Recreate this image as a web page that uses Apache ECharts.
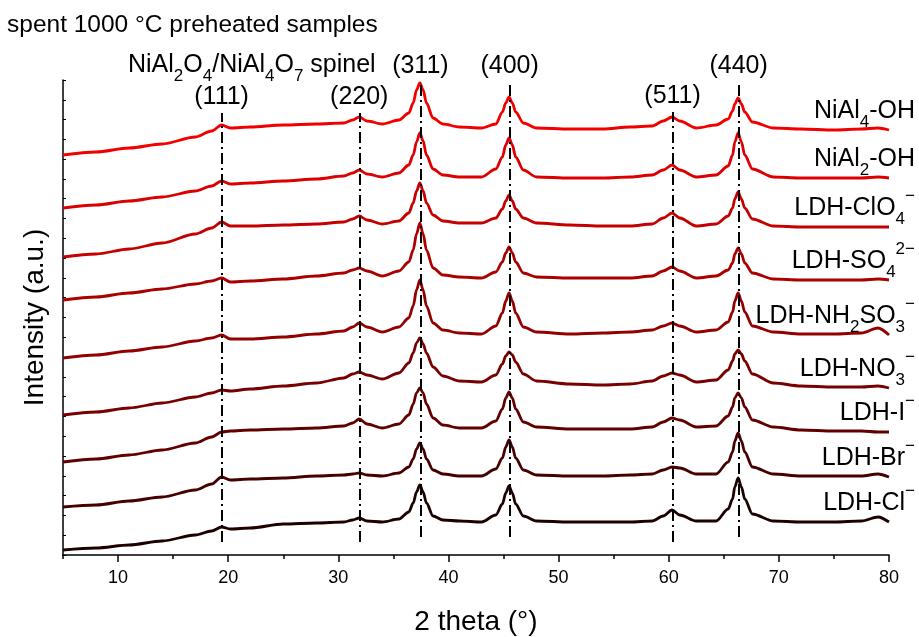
<!DOCTYPE html>
<html>
<head>
<meta charset="utf-8">
<title>spent 1000 °C preheated samples</title>
<script src="https://cdn.jsdelivr.net/npm/echarts@6/dist/echarts.min.js"></script>
<style>
    html, body { margin: 0; padding: 0; background: #fff; }
    #xrdContainer { width: 919px; height: 637px; }
</style>
</head>
<body>
<div id="xrdContainer"></div>
<script>
// 2 theta sampling points (deg)
const twoTheta = [5, 8, 11, 14, 17, 18.5, 19.4, 20.2, 22, 25, 28, 30.5, 31.3, 31.9, 32.6, 34, 35.5, 36.4, 36.8, 37.1, 37.4, 37.7, 38.0, 38.6, 39.5, 41, 43, 44.3, 44.9, 45.2, 45.5, 45.8, 46.1, 46.8, 48, 51, 54, 56.5, 58.5, 59.5, 60.3, 61, 62.5, 64.3, 65.4, 65.8, 66.0, 66.3, 66.6, 66.9, 67.6, 69.5, 72, 75, 77.5, 79, 80];

// stacked intensities (a.u.), top curve first
const niAl4OH = [400, 403, 407, 411, 418, 424, 430, 427, 428, 430, 431, 432, 435, 438, 434, 431, 435, 442, 452, 465, 472, 465, 452, 437, 431, 428, 427, 431, 443, 452, 458, 452, 443, 432, 427, 426, 426, 428, 429, 434, 438, 434, 427, 430, 436, 444, 451, 457, 451, 443, 433, 427, 426, 425, 426, 427, 425];
const niAl2OH = [347, 350, 354, 358, 364, 369, 374, 371, 372, 374, 376, 379, 382, 385, 381, 378, 382, 390, 400, 413, 422, 414, 400, 386, 380, 378, 378, 386, 398, 410, 417, 410, 398, 385, 378, 377, 377, 378, 380, 385, 390, 385, 378, 380, 389, 400, 413, 422, 413, 400, 386, 378, 377, 377, 377, 378, 377];
const ldhClO4 = [298, 301, 306, 312, 321, 327, 333, 329, 329, 330, 331, 333, 336, 339, 335, 331, 334, 342, 352, 364, 372, 364, 352, 340, 334, 332, 332, 337, 346, 354, 360, 354, 346, 337, 332, 330, 329, 329, 331, 337, 342, 337, 329, 331, 339, 347, 356, 363, 356, 347, 336, 329, 328, 328, 328, 328, 328];
const ldhSO4 = [255, 258, 262, 266, 271, 274, 277, 273, 274, 276, 279, 282, 285, 287, 284, 279, 284, 293, 305, 321, 332, 321, 305, 287, 280, 278, 277, 283, 293, 302, 308, 302, 293, 282, 278, 277, 277, 277, 279, 284, 288, 284, 277, 279, 285, 292, 301, 307, 301, 292, 282, 276, 275, 275, 275, 276, 275];
const ldhNH2SO3 = [197, 200, 204, 208, 214, 217, 220, 216, 216, 218, 221, 224, 228, 232, 228, 223, 228, 237, 249, 265, 275, 265, 249, 232, 225, 222, 221, 229, 242, 254, 262, 254, 242, 228, 223, 221, 222, 223, 225, 229, 232, 229, 223, 225, 233, 243, 254, 262, 254, 243, 229, 223, 221, 221, 222, 227, 220];
const ldhNO3 = [140, 143, 147, 152, 158, 162, 165, 164, 166, 169, 172, 177, 181, 183, 180, 176, 182, 192, 202, 212, 217, 211, 202, 188, 179, 174, 173, 180, 191, 199, 203, 200, 193, 181, 174, 171, 170, 171, 174, 179, 182, 180, 173, 175, 185, 194, 201, 205, 201, 194, 181, 172, 169, 168, 168, 169, 167];
const ldhI = [93, 96, 100, 105, 112, 118, 123, 124, 125, 126, 127, 129, 132, 136, 131, 127, 131, 140, 151, 162, 167, 162, 151, 137, 130, 127, 127, 134, 146, 157, 163, 157, 146, 133, 128, 126, 126, 126, 128, 133, 137, 135, 128, 129, 139, 148, 157, 162, 157, 148, 135, 128, 125, 124, 124, 123, 123];
const ldhBr = [48, 50, 54, 58, 65, 71, 78, 75, 76, 77, 79, 80, 81, 82, 80, 79, 82, 88, 96, 106, 112, 106, 96, 85, 81, 79, 79, 86, 97, 108, 115, 108, 97, 85, 80, 79, 79, 80, 81, 85, 88, 87, 81, 81, 93, 103, 114, 122, 114, 103, 88, 81, 79, 79, 79, 81, 78];
const ldhCl = [5, 7, 10, 14, 20, 24, 28, 26, 27, 31, 32, 33, 35, 37, 34, 33, 36, 43, 52, 63, 70, 63, 52, 39, 35, 34, 33, 40, 51, 62, 69, 62, 51, 39, 34, 33, 33, 33, 34, 39, 45, 40, 34, 34, 46, 56, 68, 77, 68, 56, 41, 34, 33, 33, 34, 38, 33];

const sampleNames = ['NiAl4-OH', 'NiAl2-OH', 'LDH-ClO4-', 'LDH-SO4 2-', 'LDH-NH2SO3-', 'LDH-NO3-', 'LDH-I-', 'LDH-Br-', 'LDH-Cl-'];
const sampleLabels = ['NiAl{sub|4}-OH', 'NiAl{sub|2}-OH', 'LDH-ClO{sub|4}{sup|−}', 'LDH-SO{sub|4}{sup|2−}', 'LDH-NH{sub|2}SO{sub|3}{sup|−}', 'LDH-NO{sub|3}{sup|−}', 'LDH-I{sup|−}', 'LDH-Br{sup|−}', 'LDH-Cl{sup|−}'];
const intensities = [niAl4OH, niAl2OH, ldhClO4, ldhSO4, ldhNH2SO3, ldhNO3, ldhI, ldhBr, ldhCl];

// spinel reflections
const peakPos = [19.4, 31.9, 37.45, 45.55, 60.35, 66.35];
const peakHkl = ['(111)', '(220)', '(311)', '(400)', '(511)', '(440)'];
const peakLineTop = [442, 442, 473, 473, 443, 473];
const peakLineBottom = [13, 13, 18, 18, 13, 18];

const majorTicks = [10, 20, 30, 40, 50, 60, 70, 80];
const minorTicks = [5, 15, 25, 35, 45, 55, 65, 75];

const lineColors = ['#f20000', '#dc0000', '#c40000', '#aa0000', '#920000', '#790000', '#620000', '#470000', '#1e0000'];
const fontFamily = 'Arial, "Liberation Sans", sans-serif';
const richText = {
    sub: {fontSize: 17, lineHeight: 14, verticalAlign: 'bottom', fontFamily: fontFamily},
    sup: {fontSize: 17, lineHeight: 22, verticalAlign: 'top', fontFamily: fontFamily}
};

const xrdChart = echarts.init(document.getElementById('xrdContainer'), null, {renderer: 'canvas'});

const curveSeries = intensities.map(function (vals, i) {
    return {
        name: sampleNames[i],
        type: 'line',
        data: twoTheta.map(function (x, j) { return [x, vals[j]]; }),
        symbol: 'none',
        smooth: 0.3,
        smoothMonotone: 'x',
        lineStyle: {color: lineColors[i], width: 2.8},
        itemStyle: {color: lineColors[i]},
        endLabel: {
            show: true,
            formatter: sampleLabels[i],
            align: 'right',
            offset: [18, -19],
            fontSize: 25,
            lineHeight: 40,
            color: '#000',
            fontFamily: fontFamily,
            rich: richText
        }
    };
});

curveSeries[curveSeries.length - 1].markLine = {
    symbol: 'none',
    silent: true,
    animation: false,
    lineStyle: {color: '#000', width: 2, type: [11, 4, 2, 4]},
    label: {show: true, position: 'end', formatter: '{b}', fontSize: 25, color: '#000', distance: 3, fontFamily: fontFamily},
    data: peakPos.map(function (p, i) {
        return [{name: peakHkl[i], coord: [p, peakLineBottom[i]]}, {coord: [p, peakLineTop[i]]}];
    })
};

const xrdOption = {
    animation: false,
    backgroundColor: '#fff',
    textStyle: {fontFamily: fontFamily},
    title: {
        text: 'spent 1000 °C preheated samples',
        left: 2,
        top: 8,
        textStyle: {fontSize: 24.5, fontWeight: 'normal', color: '#000', fontFamily: fontFamily}
    },
    graphic: [
        {
            type: 'text',
            left: 128,
            top: 45,
            style: {
                text: 'NiAl{sub|2}O{sub|4}/NiAl{sub|4}O{sub|7} spinel',
                fontSize: 25,
                lineHeight: 40,
                fontFamily: fontFamily,
                fill: '#000',
                rich: richText
            }
        }
    ],
    grid: {left: 63, right: 30, top: 80, bottom: 82, containLabel: false, outerBoundsMode: 'none'},
    xAxis: [
        {
            type: 'value',
            min: 5,
            max: 80,
            position: 'bottom',
            name: '2 theta (°)',
            nameLocation: 'middle',
            nameGap: 53,
            nameTextStyle: {fontSize: 28, color: '#000'},
            axisLine: {show: true, lineStyle: {color: '#000', width: 1.5}},
            axisTick: {show: true, length: 7, customValues: majorTicks, lineStyle: {color: '#000', width: 1.5}},
            axisLabel: {customValues: majorTicks, fontSize: 18, color: '#000', margin: 14},
            splitLine: {show: false}
        },
        {
            type: 'value',
            min: 5,
            max: 80,
            position: 'bottom',
            axisLine: {show: false},
            axisTick: {show: true, length: 4, customValues: minorTicks, lineStyle: {color: '#000', width: 1.5}},
            axisLabel: {show: false},
            splitLine: {show: false}
        }
    ],
    yAxis: {
        type: 'value',
        min: 0,
        max: 475,
        interval: 475 / 24,
        name: 'Intensity (a.u.)',
        nameLocation: 'middle',
        nameGap: 14,
        nameTextStyle: {fontSize: 28, color: '#000'},
        axisLine: {show: true, lineStyle: {color: '#000', width: 1.5}},
        axisTick: {show: true, inside: true, length: 3, lineStyle: {color: '#000', width: 1}},
        axisLabel: {show: false},
        splitLine: {show: false}
    },
    series: curveSeries
};
xrdChart.setOption(xrdOption);
</script>
</body>
</html>
